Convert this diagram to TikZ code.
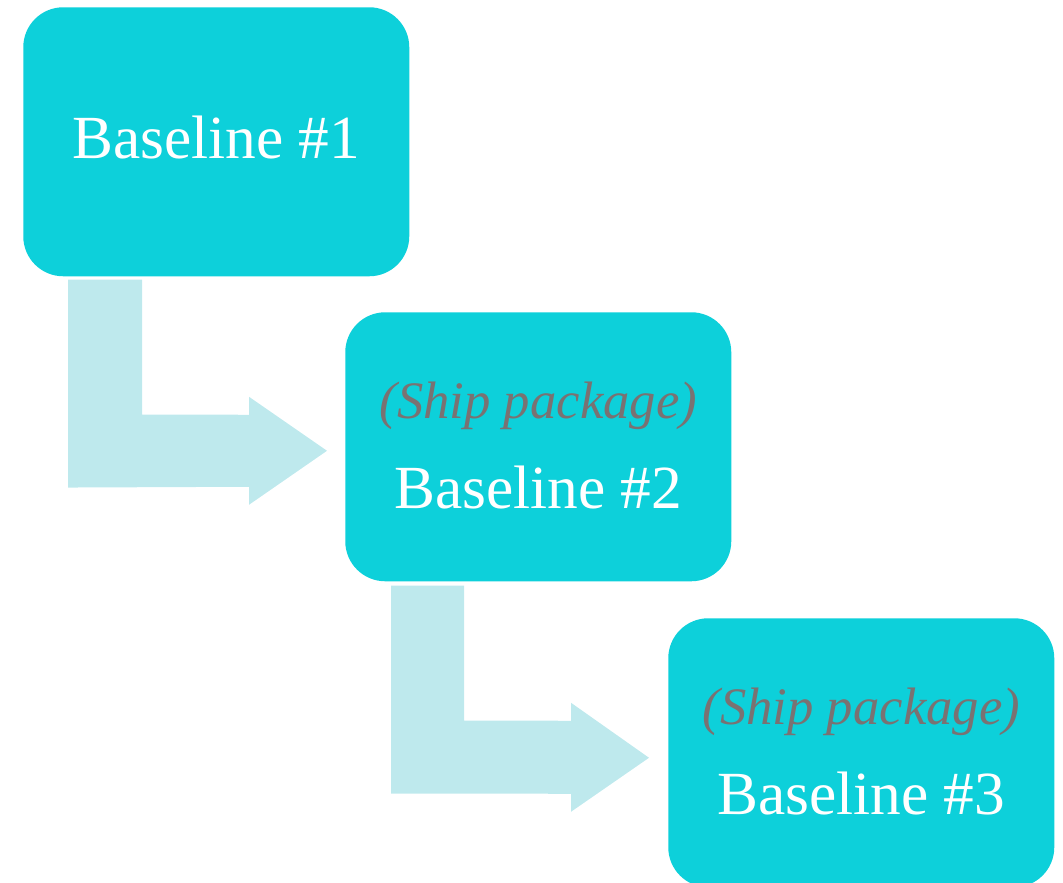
\documentclass[tikz,border=0pt]{standalone}
\usepackage{fontspec}
\setmainfont{Liberation Serif}
\usetikzlibrary{calc}
\definecolor{boxcol}{HTML}{0DD0DA}
\definecolor{arrcol}{HTML}{BEE9ED}
\definecolor{graytxt}{HTML}{7A7272}
\begin{document}
\begin{tikzpicture}[x=0.75pt,y=-0.75pt,
  stagebox/.style={fill=boxcol,rounded corners=30pt,minimum width=289.5pt,minimum height=201.75pt,anchor=north west,inner sep=0pt},
  maintxt/.style={text=white,font=\fontsize{46}{50}\selectfont,anchor=base},
  subtxt/.style={text=graytxt,font=\fontsize{39.5}{44}\selectfont\itshape,anchor=base},
  bentarrow/.style={fill=arrcol}]
\useasboundingbox (0,0) rectangle (1063,882);
\begin{scope}
\clip (0,0) rectangle (1063,882);
\node[stagebox] (b1) at (23,7) {};
\node[stagebox] (b2) at (345,312) {};
\node[stagebox] (b3) at (668,618) {};
\end{scope}
\node[maintxt] (t1) at ($(b1.north)+(0,151)$) {Baseline \#1};
\node[subtxt] (s2) at ($(b2.north)+(0,106)$) {(Ship package)};
\node[maintxt] (t2) at ($(b2.north)+(0,196)$) {Baseline \#2};
\node[subtxt] (s3) at ($(b3.north)+(0,106)$) {(Ship package)};
\node[maintxt] (t3) at ($(b3.north)+(0,196)$) {Baseline \#3};
% bent arrows
\fill[bentarrow] ($(b1.south west)+(45,3)$) -- ($(b1.south west)+(119,3)$)
  -- ($(b1.south west)+(119,138)$) -- ($(b2.west)+(-96,-32)$)
  -- ($(b2.west)+(-96,-50)$) -- ($(b2.west)+(-18,4)$)
  -- ($(b2.west)+(-96,58)$) -- ($(b2.west)+(-96,40)$)
  -- ($(b1.south west)+(45,211)$) -- cycle;
\fill[bentarrow] ($(b2.south west)+(46,4)$) -- ($(b2.south west)+(119,4)$)
  -- ($(b2.south west)+(119,139)$) -- ($(b3.west)+(-97,-32)$)
  -- ($(b3.west)+(-97,-50)$) -- ($(b3.west)+(-19,5)$)
  -- ($(b3.west)+(-97,59)$) -- ($(b3.west)+(-97,41)$)
  -- ($(b2.south west)+(46,212)$) -- cycle;
\end{tikzpicture}
\end{document}
